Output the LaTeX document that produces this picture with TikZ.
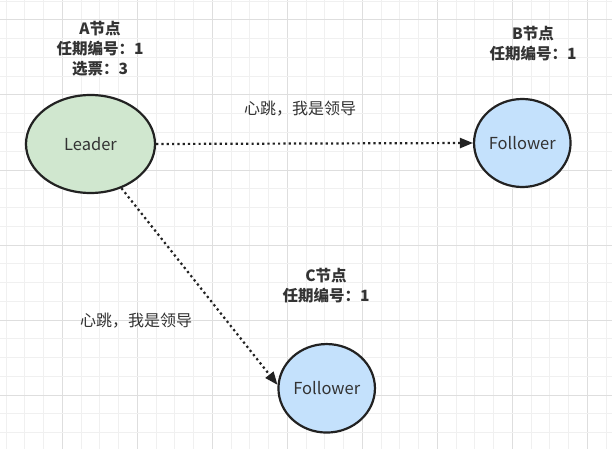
\documentclass[tikz,border=0pt]{standalone}
\usepackage{fontspec}
\setmainfont{Noto Sans CJK SC}
\usetikzlibrary{shapes.geometric,arrows.meta}
\definecolor{gridminor}{HTML}{F0F0F0}
\definecolor{gridmajor}{HTML}{DEDEDE}
\definecolor{leaderfill}{HTML}{D0E7CF}
\definecolor{followerfill}{HTML}{C4E1FC}
\definecolor{strokec}{HTML}{222222}
\definecolor{txt}{HTML}{333333}
\begin{document}
\begin{tikzpicture}[x=1pt,y=-1pt,
  nodeellipse/.style={ellipse, draw=strokec, line width=2.2pt, inner sep=0pt, text=txt, font=\fontsize{16.5}{18}\selectfont},
  titletext/.style={align=center, font=\fontsize{15.5}{20}\selectfont\bfseries, text=txt},
  elabel/.style={font=\fontsize{16}{18}\selectfont, text=txt},
  hb/.style={draw=strokec, line width=2.2pt, dash pattern=on 2.2pt off 3.1pt, -{Triangle[length=13pt,width=10pt]}}
]
\useasboundingbox (0,0) rectangle (612,449);
\fill[white] (0,0) rectangle (612,449);
% grid
\foreach \k in {0,...,32} {
  \pgfmathsetmacro{\gx}{6.05+18.75*\k}
  \pgfmathtruncatemacro{\m}{mod(\k,4)}
  \ifnum\m=3 \draw[gridmajor, line width=1pt] (\gx,0) -- (\gx,449);
  \else \draw[gridminor, line width=1pt] (\gx,0) -- (\gx,449); \fi
}
\foreach \k in {0,...,23} {
  \pgfmathsetmacro{\gy}{1.25+18.75*\k}
  \pgfmathtruncatemacro{\m}{mod(\k,4)}
  \ifnum\m=1 \draw[gridmajor, line width=1pt] (0,\gy) -- (612,\gy);
  \else \draw[gridminor, line width=1pt] (0,\gy) -- (612,\gy); \fi
}
% nodes
\node[nodeellipse, fill=leaderfill, minimum width=129pt, minimum height=98pt] (L) at (90.5,144) {Leader};
\node[nodeellipse, fill=followerfill, minimum width=96.5pt, minimum height=88pt] (B) at (522.3,143) {Follower};
\node[nodeellipse, fill=followerfill, minimum width=96.5pt, minimum height=88.5pt] (C) at (326.7,388.3) {Follower};
% titles
\node[titletext] (At) at (100,49) {A节点\\任期编号：1\\选票：3};
\node[titletext] (Bt) at (533,44) {B节点\\任期编号：1};
\node[titletext] (Ct) at (326,285.5) {C节点\\任期编号：1};
% edges
\draw[hb] (L.east) -- (B.west);
\draw[hb] (L.-55) -- (C.176);
\node[elabel] (e1) at (300,109) {心跳，我是领导};
\node[elabel] (e2) at (136,321) {心跳，我是领导};
\end{tikzpicture}
\end{document}
